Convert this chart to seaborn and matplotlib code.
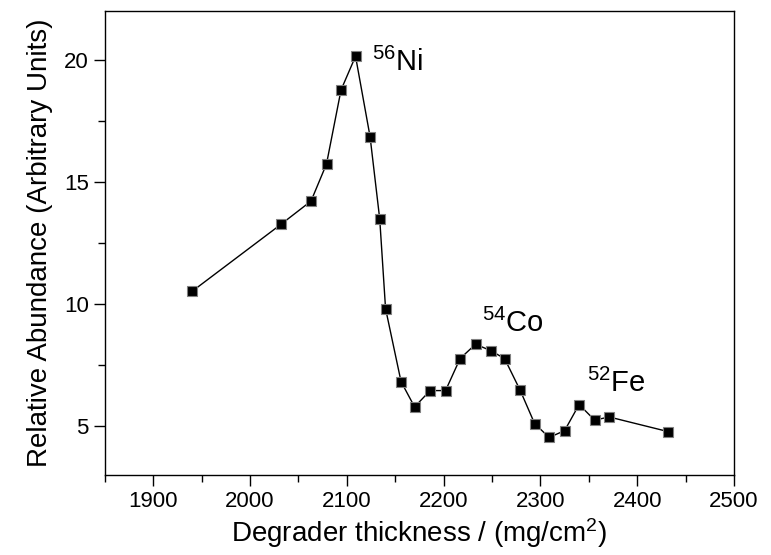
import numpy as np
import pandas as pd
import matplotlib
matplotlib.use("Agg")
import matplotlib.pyplot as plt
import seaborn as sns
from matplotlib.ticker import MultipleLocator

# === DATOS ===
thickness = [1940, 2032, 2063, 2079, 2094, 2109, 2124, 2134, 2140, 2156,
             2170, 2186, 2202, 2217, 2233, 2249, 2263, 2279, 2294, 2309,
             2325, 2340, 2356, 2371, 2432]
abundance = [10.52, 13.27, 14.22, 15.74, 18.77, 20.15, 16.86, 13.48, 9.82, 6.83,
             5.79, 6.46, 6.46, 7.77, 8.36, 8.09, 7.77, 6.48, 5.11, 4.54,
             4.82, 5.89, 5.25, 5.38, 4.78]
isotopes = [r"$^{56}$Ni", r"$^{54}$Co", r"$^{52}$Fe"]
isotope_pos = [(2126, 19.3), (2240, 8.6), (2348, 6.15)]

df = pd.DataFrame({"x": thickness, "y": abundance})

# === ESTILO ===
sns.set_style("ticks")
plt.rcParams["font.family"] = ["Liberation Sans", "DejaVu Sans"]
plt.rcParams["mathtext.fontset"] = "custom"
plt.rcParams["mathtext.rm"] = "Liberation Sans"
plt.rcParams["mathtext.it"] = "Liberation Sans"
plt.rcParams["mathtext.default"] = "regular"
plt.rcParams["text.color"] = "black"
plt.rcParams["axes.labelcolor"] = "black"
plt.rcParams["xtick.color"] = "black"
plt.rcParams["ytick.color"] = "black"

fig = plt.figure(figsize=(7.71, 5.55), dpi=100)
ax = fig.add_axes([0.136, 0.144, 0.816, 0.836])

sns.lineplot(data=df, x="x", y="y", ax=ax, color="black", linewidth=1.0,
             marker="s", markersize=7.5, markerfacecolor="black",
             markeredgecolor="#808080", markeredgewidth=0.8)

for label, (px, py) in zip(isotopes, isotope_pos):
    ax.text(px, py, label, fontsize=21, ha="left", va="bottom")

ax.set_xlim(1850, 2500)
ax.set_ylim(3, 22)
ax.xaxis.set_major_locator(MultipleLocator(100))
ax.xaxis.set_minor_locator(MultipleLocator(50))
ax.yaxis.set_major_locator(MultipleLocator(5))
ax.yaxis.set_minor_locator(MultipleLocator(2.5))
ax.set_xticks([1900, 2000, 2100, 2200, 2300, 2400, 2500])

ax.tick_params(which="major", direction="out", length=8, width=1.0,
               labelsize=16, colors="black")
ax.tick_params(which="minor", direction="out", length=5, width=1.0, colors="black")
for sp in ax.spines.values():
    sp.set_visible(True)
    sp.set_linewidth(1.0)
    sp.set_color("black")

ax.set_xlabel(r"Degrader thickness / (mg/cm$^2$)", fontsize=20, labelpad=3)
ax.set_ylabel("Relative Abundance (Arbitrary Units)", fontsize=20, labelpad=8)

fig.savefig("out.png", dpi=100, facecolor="white")
